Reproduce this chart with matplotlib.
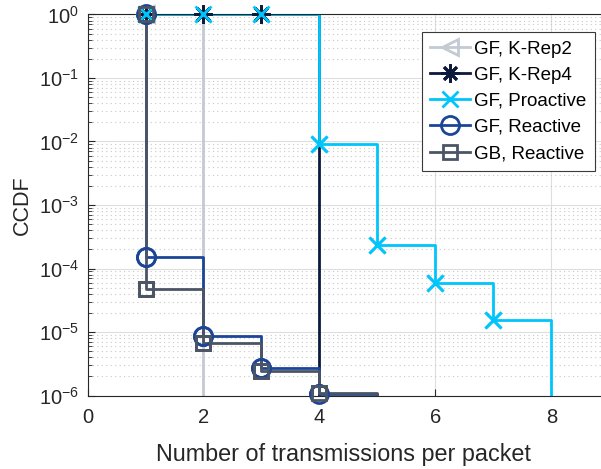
import numpy as np
import matplotlib
matplotlib.use("Agg")
import matplotlib.pyplot as plt
from matplotlib.ticker import LogLocator, NullFormatter

plt.rcParams['font.family'] = ['Liberation Sans', 'DejaVu Sans']
plt.rcParams['mathtext.fontset'] = 'custom'
plt.rcParams['mathtext.rm'] = 'Liberation Sans'
plt.rcParams['mathtext.default'] = 'regular'

# CCDF of the number of transmissions per packet (0 = never reached)
x_krep2 = [1, 2]
y_krep2 = [1.0, 0.0]

x_krep4 = [1, 2, 3, 4]
y_krep4 = [1.0, 1.0, 1.0, 0.0]

x_proactive = [1, 2, 3, 4, 5, 6, 7, 8]
y_proactive = [1.0, 1.0, 1.0, 9.0e-3, 2.36e-4, 5.9e-5, 1.55e-5, 0.0]

x_gf_reactive = [1, 1, 2, 3, 4, 5]
y_gf_reactive = [1.0, 1.52e-4, 8.8e-6, 2.7e-6, 1.06e-6, 0.0]

x_gb_reactive = [1, 1, 2, 3, 4, 5]
y_gb_reactive = [1.0, 4.7e-5, 6.8e-6, 2.45e-6, 1.08e-6, 0.0]

labels = ['GF, K-Rep2', 'GF, K-Rep4', 'GF, Proactive', 'GF, Reactive', 'GB, Reactive']
xticks = [0, 2, 4, 6, 8]
yticks = [1e-6, 1e-5, 1e-4, 1e-3, 1e-2, 1e-1, 1e0]
yticklabels = [r'$10^{-6}$', r'$10^{-5}$', r'$10^{-4}$', r'$10^{-3}$',
               r'$10^{-2}$', r'$10^{-1}$', r'$10^{0}$']

# asterisk with 8 spokes, like a '+' and an 'x' on top of each other
asterisk = (8, 2, 0)

series = [
    (x_krep2, y_krep2, '#c3cad3', '<', 12),
    (x_krep4, y_krep4, '#0c1a3c', asterisk, 13),
    (x_proactive, y_proactive, '#00c5fb', 'x', 11),
    (x_gf_reactive, y_gf_reactive, '#1b4697', 'o', 13),
    (x_gb_reactive, y_gb_reactive, '#4b5566', 's', 10),
]

fig = plt.figure(figsize=(6.01, 4.69), dpi=100)
ax = fig.add_axes([0.1456, 0.1567, 0.965, 0.8124])
ax.set_yscale('log')

handles = []
for (xs, ys, col, mk, ms), lab in zip(series, labels):
    h, = ax.plot(xs, ys, drawstyle='steps-post', color=col, lw=2,
                 marker=mk, ms=ms, mew=2, mfc='none', label=lab)
    handles.append(h)
    xs_a = np.array(xs, dtype=float)
    ys_a = np.array(ys, dtype=float)
    pos = ys_a > 0
    ax.plot(xs_a[pos], ys_a[pos], ls='none', color=col, marker=mk, ms=ms,
            mew=2, mfc='none', clip_on=False, zorder=3)

ax.set_xlim(0, 10)
ax.set_ylim(1e-6, 1)
ax.set_xticks(xticks)
ax.set_yticks(yticks)
ax.set_yticklabels(yticklabels)
ax.yaxis.set_minor_locator(LogLocator(base=10, subs=np.arange(2, 10), numticks=20))
ax.yaxis.set_minor_formatter(NullFormatter())

ax.grid(True, which='major', color='#dedede', lw=0.8, ls='-')
ax.grid(True, which='minor', axis='y', color='#c8c8c8', lw=0.8, ls=(0, (1, 3)))
ax.set_axisbelow(True)

ax.tick_params(which='both', direction='in', colors='#262626', labelsize=14.5,
               top=False, right=False)
ax.tick_params(which='major', length=5)
ax.tick_params(which='minor', length=3)
ax.tick_params(axis='x', pad=9)
ax.tick_params(axis='y', pad=6)
for s in ax.spines.values():
    s.set_color('#262626')
    s.set_linewidth(0.8)

ax.set_xlabel('Number of transmissions per packet', fontsize=16.8, color='#262626')
ax.xaxis.set_label_coords(0.4405, -0.125)
ax.set_ylabel('CCDF', fontsize=15.5, color='#262626', labelpad=4)

leg = ax.legend(handles=handles, loc='upper left', bbox_to_anchor=(0.5767, 0.954),
                fontsize=13.5, frameon=True, fancybox=False, framealpha=1,
                edgecolor='#3a3a3a', handlelength=2.1, handletextpad=0.25,
                borderpad=0.45, labelspacing=0.48, borderaxespad=0)
leg.get_frame().set_linewidth(0.8)

fig.savefig('out.png', dpi=100)
